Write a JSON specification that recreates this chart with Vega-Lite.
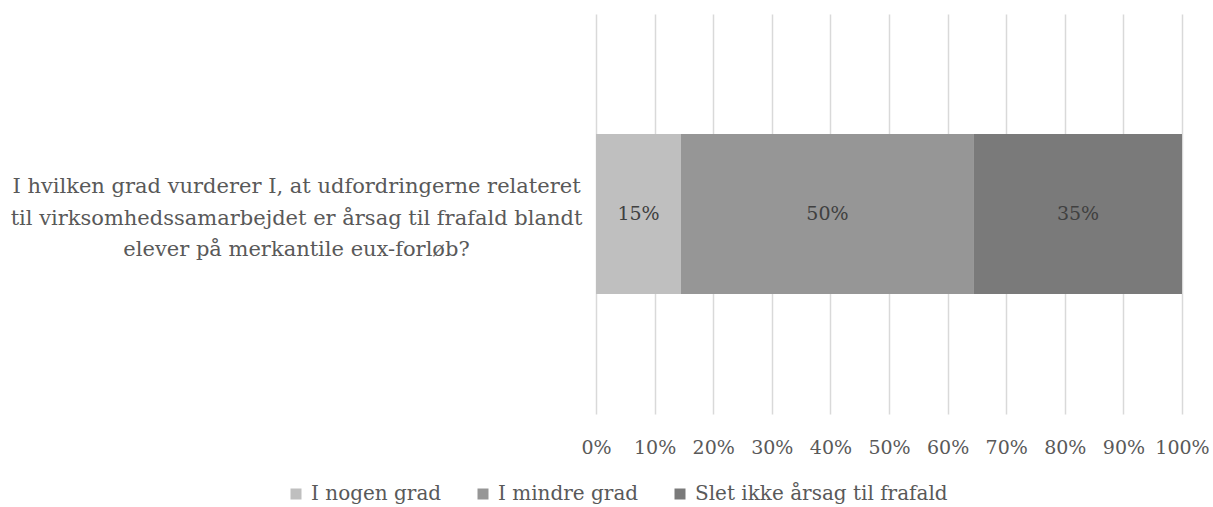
{
  "$schema": "https://vega.github.io/schema/vega-lite/v6.json",
  "autosize": {"type": "none"},
  "width": 586,
  "height": 400,
  "padding": {"left": 596, "top": 14, "right": 31, "bottom": 93},
  "background": "white",
  "config": {
    "font": "DejaVu Serif",
    "view": {"stroke": null}
  },
  "data": {
    "values": [
      {"q": "I hvilken grad vurderer I, at udfordringerne relateret|til virksomhedssamarbejdet er årsag til frafald blandt|elever på merkantile eux-forløb?", "cat": "I nogen grad", "v": 14.5, "lab": "15%", "o": 1},
      {"q": "I hvilken grad vurderer I, at udfordringerne relateret|til virksomhedssamarbejdet er årsag til frafald blandt|elever på merkantile eux-forløb?", "cat": "I mindre grad", "v": 50, "lab": "50%", "o": 2},
      {"q": "I hvilken grad vurderer I, at udfordringerne relateret|til virksomhedssamarbejdet er årsag til frafald blandt|elever på merkantile eux-forløb?", "cat": "Slet ikke årsag til frafald", "v": 35.5, "lab": "35%", "o": 3}
    ]
  },
  "encoding": {
    "y": {
      "field": "q", "type": "nominal", "title": null,
      "scale": {"paddingInner": 0.6, "paddingOuter": 0.3},
      "axis": {
        "domain": false, "ticks": false, "grid": false,
        "labelExpr": "split(datum.label, '|')",
        "labelAlign": "center", "labelBaseline": "middle",
        "labelPadding": 300, "labelLimit": 0, "labelOffset": -27,
        "labelFontSize": 21, "labelLineHeight": 31.5,
        "labelColor": "#595959"
      }
    },
    "x": {
      "field": "v", "type": "quantitative", "stack": "zero", "title": null,
      "scale": {"domain": [0, 100], "nice": false},
      "axis": {
        "values": [0, 10, 20, 30, 40, 50, 60, 70, 80, 90, 100],
        "labelExpr": "datum.value + '%'",
        "domain": false, "ticks": false, "grid": true,
        "gridColor": "#d9d9d9", "gridWidth": 1.5,
        "labelFontSize": 19, "labelColor": "#595959",
        "labelPadding": 24, "labelFlush": false, "labelOverlap": false
      }
    },
    "order": {"field": "o", "type": "quantitative"}
  },
  "layer": [
    {
      "mark": {"type": "bar"},
      "encoding": {
        "color": {
          "field": "cat", "type": "nominal",
          "scale": {"domain": ["I nogen grad", "I mindre grad", "Slet ikke årsag til frafald"], "range": ["#bfbfbf", "#969696", "#7a7a7a"]},
          "legend": {
            "title": null, "orient": "none", "direction": "horizontal",
            "legendX": -310, "legendY": 470,
            "symbolType": "square", "symbolSize": 121, "symbolStrokeWidth": 0,
            "labelFontSize": 20, "labelColor": "#595959", "labelOffset": 5,
            "columnPadding": 31, "padding": 0, "labelLimit": 0
          }
        }
      }
    },
    {
      "mark": {"type": "text", "fontSize": 19, "color": "#404040", "baseline": "middle"},
      "encoding": {
        "x": {"field": "v", "type": "quantitative", "stack": "zero", "bandPosition": 0.5},
        "text": {"field": "lab"}
      }
    }
  ]
}
